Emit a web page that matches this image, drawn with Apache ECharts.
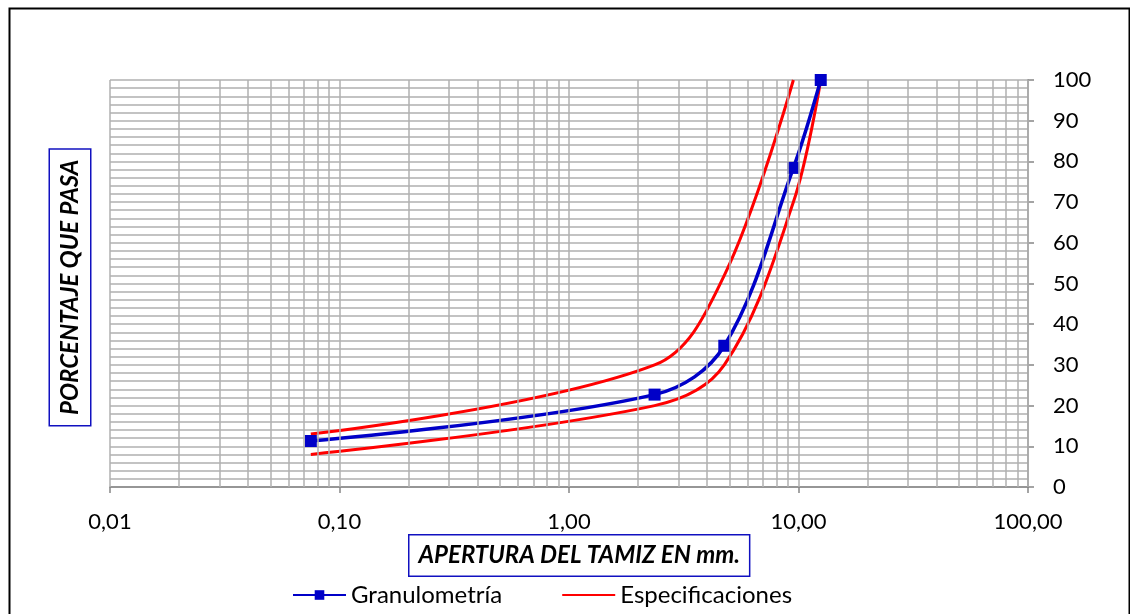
<!DOCTYPE html>
<html>
<head>
<meta charset="utf-8">
<script src="https://cdn.jsdelivr.net/npm/echarts@6/dist/echarts.min.js"></script>
<style>
html,body{margin:0;padding:0;background:#fff;}
#chart{width:1130px;height:614px;}
</style>
</head>
<body>
<div id="chart"></div>
<script>
// ---- data ----
const sieveSizes = [0.075, 2.36, 4.75, 9.5, 12.5];
const granulometria = [11.3, 22.7, 34.7, 78.4, 100];
const specUpperSizes = [0.075, 2.36, 4.75, 9.5];
const specUpper = [13, 30, 52, 100];
const specLowerSizes = [0.075, 2.36, 4.75, 9.5, 12.5];
const specLower = [8, 20, 30, 70, 100];
const xTickValues = [0.01, 0.1, 1, 10, 100];
const xTickLabels = ['0,01', '0,10', '1,00', '10,00', '100,00'];
const yTickLabels = ['0','10','20','30','40','50','60','70','80','90','100'];
const seriesNames = ['Granulometría', 'Especificaciones'];
const xTitle = 'APERTURA DEL TAMIZ EN mm.';
const yTitle = 'PORCENTAJE QUE PASA';

// vertical log grid lines (1..9 per decade)
const vGrid = [];
for (let d = 0; d < xTickValues.length - 1; d++) {
  for (let k = 1; k <= 9; k++) vGrid.push(+(xTickValues[d] * k).toPrecision(6));
}
vGrid.push(xTickValues[xTickValues.length - 1]);

const pair = (xs, ys) => xs.map((x, i) => [x, ys[i]]);
const FONT = 'Lato, "Open Sans", sans-serif';
const GRID = '#b0b0b0';
const SMOOTH = 0.35;

const chart = echarts.init(document.getElementById('chart'), null, {renderer: 'canvas'});
chart.setOption({
  animation: false,
  backgroundColor: '#ffffff',
  grid: {left: 110, right: 102, top: 80, bottom: 127, containLabel: false},
  xAxis: {
    type: 'log', logBase: 10, min: 0.01, max: 100,
    axisLine: {show: true, lineStyle: {color: '#868686', width: 1.5}},
    axisTick: {show: true, length: 6, lineStyle: {color: '#868686', width: 1.5}},
    splitLine: {show: false},
    axisLabel: {
      margin: 24, color: '#000', fontSize: 22, fontFamily: FONT,
      formatter: v => { const i = xTickValues.findIndex(t => Math.abs(Math.log10(t) - Math.log10(v)) < 1e-6); return i >= 0 ? xTickLabels[i] : ''; }
    }
  },
  yAxis: {
    type: 'value', position: 'right', min: 0, max: 100, interval: 10,
    axisLine: {show: true, lineStyle: {color: '#868686', width: 1.5}},
    axisTick: {show: true, inside: false, length: 6, lineStyle: {color: '#868686', width: 1.5}},
    splitLine: {show: true, lineStyle: {color: GRID, width: 1.5}},
    minorTick: {show: false, splitNumber: 5},
    minorSplitLine: {show: true, lineStyle: {color: GRID, width: 1.5}},
    axisLabel: {margin: 25, color: '#000', fontSize: 22, fontFamily: FONT, align: 'left',
      formatter: v => yTickLabels[Math.round(v / 10)]}
  },
  legend: {
    left: 292, top: 583, padding: 0, itemWidth: 53, itemHeight: 12, itemGap: 59,
    textStyle: {fontSize: 24, fontFamily: FONT, color: '#000'},
    data: [
      {name: seriesNames[0]},
      {name: seriesNames[1], itemStyle: {color: 'rgba(0,0,0,0)', borderWidth: 0, opacity: 0}}
    ]
  },
  graphic: [
    {type: 'rect', left: 7, top: 6, shape: {width: 1120, height: 620},
     style: {fill: 'none', stroke: '#000', lineWidth: 2}, silent: true, z: 100},
    {type: 'text', left: 408, top: 534, z: 100,
     style: {text: xTitle, fontSize: 24, fontWeight: 'bold', fontStyle: 'italic', fontFamily: FONT, lineHeight: 24,
       fill: '#000', borderColor: '#1010c0', borderWidth: 1.5, padding: [8, 9, 8, 9], backgroundColor: '#fff'}},
    {type: 'text', x: 50, y: 425, rotation: Math.PI / 2, z: 100,
     style: {text: yTitle, fontSize: 24, fontWeight: 'bold', fontStyle: 'italic', fontFamily: FONT, lineHeight: 24,
       fill: '#000', borderColor: '#1010c0', borderWidth: 1.5, padding: [8, 10, 8, 10], backgroundColor: '#fff'}}
  ],
  series: [
    {
      name: '__grid', type: 'line', data: [], silent: true, z: 1,
      markLine: {silent: true, symbol: ['none', 'none'], label: {show: false},
        lineStyle: {color: GRID, width: 1.5, type: 'solid'},
        emphasis: {disabled: true},
        data: vGrid.map(v => ({xAxis: v}))}
    },
    {
      name: seriesNames[1], type: 'line', data: pair(specUpperSizes, specUpper), smooth: SMOOTH,
      symbol: 'none', lineStyle: {color: '#ff0000', width: 3}, itemStyle: {color: '#ff0000'}, z: 3
    },
    {
      name: seriesNames[1], type: 'line', data: pair(specLowerSizes, specLower), smooth: SMOOTH,
      symbol: 'none', lineStyle: {color: '#ff0000', width: 3}, itemStyle: {color: '#ff0000'}, z: 3
    },
    {
      name: seriesNames[0], type: 'line', data: pair(sieveSizes, granulometria), smooth: SMOOTH,
      symbol: 'rect', symbolSize: 12, lineStyle: {color: '#0000c8', width: 3.5}, itemStyle: {color: '#0000c8'}, z: 4
    }
  ]
});
</script>
</body>
</html>
